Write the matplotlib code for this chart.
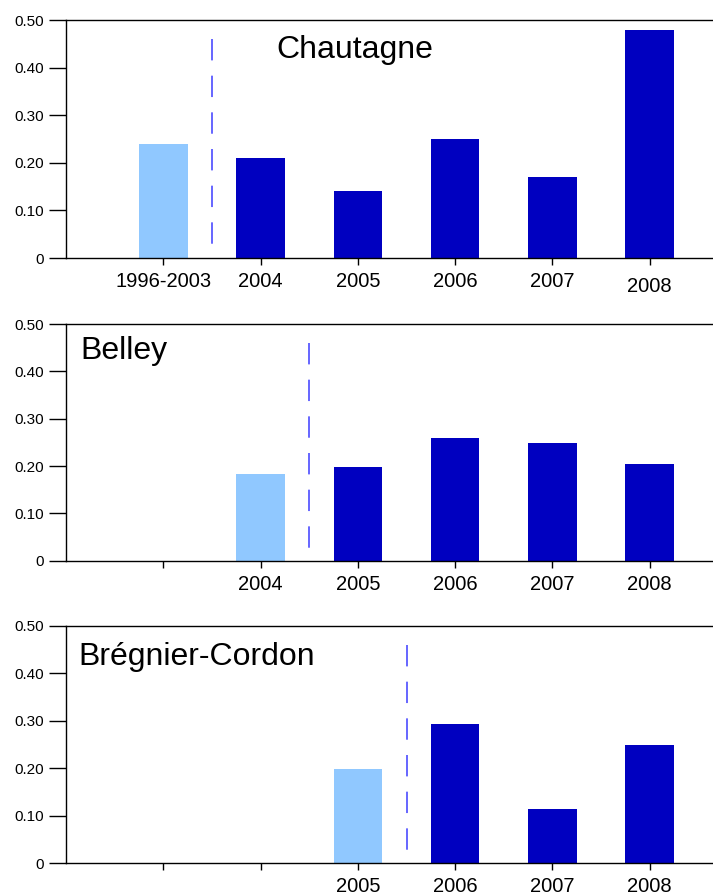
import matplotlib
matplotlib.use("Agg")
import matplotlib.pyplot as plt
from matplotlib.transforms import ScaledTranslation

plt.rcParams["font.family"] = ["Liberation Sans", "DejaVu Sans"]

# --- data ---------------------------------------------------------------
sites = ["Chautagne", "Belley", "Brégnier-Cordon"]

chautagne_labels = ["1996-2003", "2004", "2005", "2006", "2007", "2008"]
chautagne_values = [0.24, 0.21, 0.14, 0.25, 0.17, 0.48]
chautagne_ref = 0          # index of the reference (pre-restoration) bar

belley_labels = ["", "2004", "2005", "2006", "2007", "2008"]
belley_values = [None, 0.183, 0.197, 0.259, 0.249, 0.204]
belley_ref = 1

bregnier_labels = ["", "", "2005", "2006", "2007", "2008"]
bregnier_values = [None, None, 0.199, 0.293, 0.114, 0.250]
bregnier_ref = 2

yticks = [0, 0.10, 0.20, 0.30, 0.40, 0.50]
ytick_labels = ["0", "0.10", "0.20", "0.30", "0.40", "0.50"]

LIGHT = "#90c8ff"
DARK = "#0000c0"
DASH = "#3c3cff"

panels = [
    (sites[0], chautagne_labels, chautagne_values, chautagne_ref),
    (sites[1], belley_labels, belley_values, belley_ref),
    (sites[2], bregnier_labels, bregnier_values, bregnier_ref),
]

W, H = 713, 894
fig = plt.figure(figsize=(W / 100, H / 100), dpi=100)

# axes boxes in pixels: (top, bottom)
boxes = [(20, 258), (324, 560.7), (625.7, 863.3)]
title_pos = [(1.16, 0.42), (-0.85, 0.426), (-0.87, 0.417)]

for i, (name, labels, values, ref) in enumerate(panels):
    top, bot = boxes[i]
    ax = fig.add_axes([66 / W, 1 - bot / H, 1 - 66 / W, (bot - top) / H])
    xs = list(range(len(labels)))
    for x, v in zip(xs, values):
        if v is None:
            continue
        ax.bar(x, v, width=0.5, color=LIGHT if x == ref else DARK,
               edgecolor="none", zorder=2)
    # dashed separator between reference period and following years
    line, = ax.plot([ref + 0.5, ref + 0.5], [0.46, 0], color=DASH, lw=1.1,
                    zorder=3)
    line.set_dashes((14, 10))

    ax.set_xlim(-1, 5.65)
    ax.set_ylim(0, 0.5)
    ax.set_xticks(xs)
    ax.set_xticklabels(labels, fontsize=14.5)
    ax.set_yticks(yticks)
    ax.set_yticklabels(ytick_labels, fontsize=11)
    ax.tick_params(axis="y", length=12, width=1.0, pad=4, direction="out")
    ax.tick_params(axis="x", length=5, width=1.0, pad=5, direction="out")
    ax.spines["right"].set_visible(False)
    for s in ("left", "top", "bottom"):
        ax.spines[s].set_linewidth(1.0)
    ax.text(title_pos[i][0], title_pos[i][1], name, fontsize=23,
            va="baseline", ha="left")

    if i == 0:
        # the last year label sits a little lower in the original
        lab = ax.get_xticklabels()[-1]
        lab.set_transform(lab.get_transform()
                          + ScaledTranslation(0, -5 / 100, fig.dpi_scale_trans))

fig.savefig("out.png", dpi=100)
